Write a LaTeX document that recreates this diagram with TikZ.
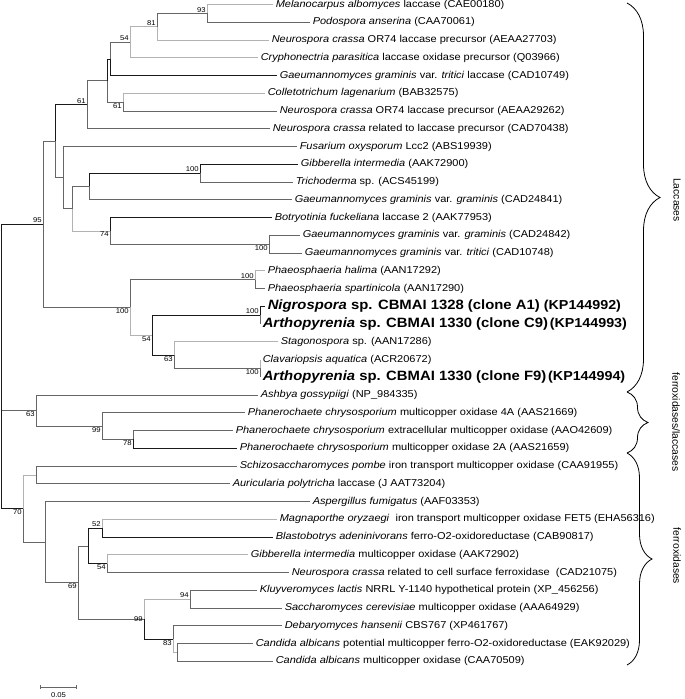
\documentclass[tikz,border=0pt]{standalone}
\usepackage{fontspec}
\setmainfont{Liberation Sans}
\usetikzlibrary{decorations.pathreplacing,arrows.meta}
\newcommand\hlfont{\fontsize{13.5}{14}\selectfont\bfseries}
\newcommand\accfont{\fontsize{13}{14}\selectfont\bfseries}

\begin{document}
\begin{tikzpicture}[x=1pt,y=-1pt,
    br/.style={draw=black!60,line width=0.6pt},
    brl/.style={draw=black!30,line width=0.6pt},
    brd/.style={draw=black!90,line width=0.6pt},
    leaf/.style={anchor=west,inner sep=2.3pt,xscale=1.1,font=\fontsize{10}{11}\selectfont},
    bs/.style={inner sep=1pt,xscale=1.1,font=\fontsize{7}{8}\selectfont},
    group/.style={decorate,decoration={brace,amplitude=#1},line width=0.8pt},
    grouplabel/.style={rotate=-90,font=\fontsize{10.3}{12}\selectfont},
    ]
\useasboundingbox (0,0) rectangle (685,699);

% leaves
\foreach \i/\x/\lab in {
  1/273/{\textit{Melanocarpus albomyces} laccase (CAE00180)},
  2/310/{\textit{Podospora anserina} (CAA70061)},
  3/269/{\textit{Neurospora crassa} OR74 laccase precursor (AEAA27703)},
  4/258/{\textit{Cryphonectria parasitica} laccase oxidase precursor (Q03966)},
  5/277/{\textit{Gaeumannomyces graminis} var. \textit{tritici} laccase (CAD10749)},
  6/265/{\textit{Colletotrichum lagenarium} (BAB32575)},
  7/277/{\textit{Neurospora crassa} OR74 laccase precursor (AEAA29262)},
  8/270/{\textit{Neurospora crassa} related to laccase precursor (CAD70438)},
  9/297/{\textit{Fusarium oxysporum} Lcc2 (ABS19939)},
  10/298/{\textit{Gibberella intermedia} (AAK72900)},
  11/293/{\textit{Trichoderma} sp. (ACS45199)},
  12/292/{\textit{Gaeumannomyces graminis} var. \textit{graminis} (CAD24841)},
  13/272/{\textit{Botryotinia fuckeliana} laccase 2 (AAK77953)},
  14/300/{\textit{Gaeumannomyces graminis} var. \textit{graminis} (CAD24842)},
  15/302/{\textit{Gaeumannomyces graminis} var. \textit{tritici} (CAD10748)},
  16/265/{\textit{Phaeosphaeria halima} (AAN17292)},
  17/265/{\textit{Phaeosphaeria spartinicola} (AAN17290)},
  18/265/{{\hlfont\textit{Nigrospora} sp. CBMAI 1328 (clone A1) }{\accfont(KP144992)}},
  19/260/{{\hlfont\textit{Arthopyrenia} sp. CBMAI 1330 (clone C9)}\,{\accfont(KP144993)}},
  20/278/{\textit{Stagonospora} sp. (AAN17286)},
  21/260/{\textit{Clavariopsis aquatica} (ACR20672)},
  22/260/{{\hlfont\textit{Arthopyrenia} sp. CBMAI 1330 (clone F9)}\,{\accfont(KP144994)}},
  23/258/{\textit{Ashbya gossypiigi} (NP\_984335)},
  24/245/{\textit{Phanerochaete chrysosporium} multicopper oxidase 4A (AAS21669)},
  25/233/{\textit{Phanerochaete chrysosporium} extracellular multicopper oxidase (AAO42609)},
  26/237/{\textit{Phanerochaete chrysosporium} multicopper oxidase 2A (AAS21659)},
  27/237/{\textit{Schizosaccharomyces pombe} iron transport multicopper oxidase (CAA91955)},
  28/230/{\textit{Auricularia polytricha} laccase (J AAT73204)},
  29/310/{\textit{Aspergillus fumigatus} (AAF03353)},
  30/277/{\textit{Magnaporthe oryzaegi}\ \ iron transport multicopper oxidase FET5 (EHA56316)},
  31/273/{\textit{Blastobotrys adeninivorans} ferro-O2-oxidoreductase (CAB90817)},
  32/248/{\textit{Gibberella intermedia} multicopper oxidase (AAK72902)},
  33/289/{\textit{Neurospora crassa} related to cell surface ferroxidase\ \ (CAD21075)},
  34/257/{\textit{Kluyveromyces lactis} NRRL Y-1140 hypothetical protein (XP\_456256)},
  35/282/{\textit{Saccharomyces cerevisiae} multicopper oxidase (AAA64929)},
  36/282/{\textit{Debaryomyces hansenii} CBS767 (XP461767)},
  37/253/{\textit{Candida albicans} potential multicopper ferro-O2-oxidoreductase (EAK92029)},
  38/273/{\textit{Candida albicans} multicopper oxidase (CAA70509)}}
{
  \coordinate (l\i) at (\x,{4.5+(\i-1)*17.75});
  \node[leaf] (t\i) at (l\i) {\lab};
}

% internal nodes
\coordinate (a) at (207,13.4);   \coordinate (b) at (157,26.7);
\coordinate (c) at (130,42.2);   \coordinate (d) at (110,58.9);
\coordinate (e) at (107,80.5);   \coordinate (f) at (123,102.1);
\coordinate (g) at (87,104.6);   \coordinate (h) at (55,141.1);
\coordinate (i) at (63,177.6);   \coordinate (j) at (72,208.6);
\coordinate (k) at (89,186.4);   \coordinate (l) at (200,173.1);
\coordinate (m) at (110,230.8);  \coordinate (n) at (269,244.1);
\coordinate (o) at (43,224.2);   \coordinate (p) at (130,307.4);
\coordinate (q) at (255,279.6);  \coordinate (r) at (152,335.1);
\coordinate (s) at (260,315.1);  \coordinate (t) at (174,355.1);
\coordinate (u) at (260,368.4);  \coordinate (v) at (36,410.5);
\coordinate (w) at (102,426.1);  \coordinate (x) at (133,439.4);
\coordinate (y) at (23,508.5);   \coordinate (z) at (36,474.9);
\coordinate (aa) at (45,542);    \coordinate (ab) at (78,582.5);
\coordinate (ac) at (88,545.9);  \coordinate (ad) at (144,619.1);
\coordinate (ae) at (102,528.1); \coordinate (af) at (107,563.6);
\coordinate (ag) at (190,599.1); \coordinate (ah) at (173,639.1);
\coordinate (ai) at (177,652.4); \coordinate (root) at (1,366.4);

% branches
\foreach \p/\c/\s in {a/l1/brl, a/l2/br, b/a/br, b/l3/brl, c/b/brl, c/l4/brl,
  d/c/br, d/l5/brd, e/d/brd, e/f/br, f/l6/brl, f/l7/br, g/e/br, g/l8/br,
  h/g/brd, h/i/br, i/l9/br, i/j/br, j/k/br, j/m/brl, k/l/brd, k/l12/br,
  l/l10/brd, l/l11/br, m/l13/brd, m/n/br, n/l14/br, n/l15/br, o/h/br, o/p/br,
  p/q/br, p/r/brl, q/l16/brl, q/l17/br, r/s/brd, r/t/brd, s/l18/brd, s/l19/br,
  t/l20/brl, t/u/br, u/l21/brl, u/l22/br, root/v/br, root/o/brd, root/y/brd,
  v/l23/br, v/w/br, w/l24/br, w/x/br, x/l25/br, x/l26/brd, y/z/brl, y/aa/br,
  z/l27/br, z/l28/br, aa/l29/br, aa/ab/br, ab/ac/br, ab/ad/br, ac/ae/brd,
  ac/af/brd, ae/l30/brl, ae/l31/brd, af/l32/brl, af/l33/br, ad/ag/brl,
  ad/ah/brd, ag/l34/br, ag/l35/br, ah/l36/br, ah/ai/brl, ai/l37/br, ai/l38/br}
  \draw[\s] (\p) |- (\c);

% bootstrap values
\foreach \c/\pos/\v in {a/above left/93, b/above left/81, c/above left/54,
  f/below left/61, g/above left/61, l/above left/100, m/below left/74,
  n/below left/100, o/above left/95, p/below left/100, q/above left/100,
  r/below left/54, s/above left/100, t/below left/63, u/below left/100,
  v/below left/63, w/below left/99, x/below left/78, y/below left/70,
  ab/below left/69, ae/above left/52, af/below left/54, ad/left/99,
  ag/above left/94, ah/below left/83}
  \node[bs,\pos] (bs\c) at (\c) {\v};

% scale bar
\coordinate (sb0) at (40,687);
\coordinate (sb1) at (77,687);
\draw[br,{Bar[width=4pt]}-{Bar[width=4pt]}] (sb0) -- (sb1);
\node[bs] (sblab) at (58.5,695) {0.05};

% groups
\draw[group=33pt] (627,3) -- (627,392);
\draw[group=21pt] (627,392) -- (627,453);
\draw[group=25pt] (627,453) -- (627,665);
\node[grouplabel] (lacc) at (677,200) {Laccases};
\node[grouplabel] (ferrlacc) at (676,422) {ferroxidases/laccases};
\node[grouplabel] (ferr) at (677,556) {ferroxidases};
\end{tikzpicture}
\end{document}
